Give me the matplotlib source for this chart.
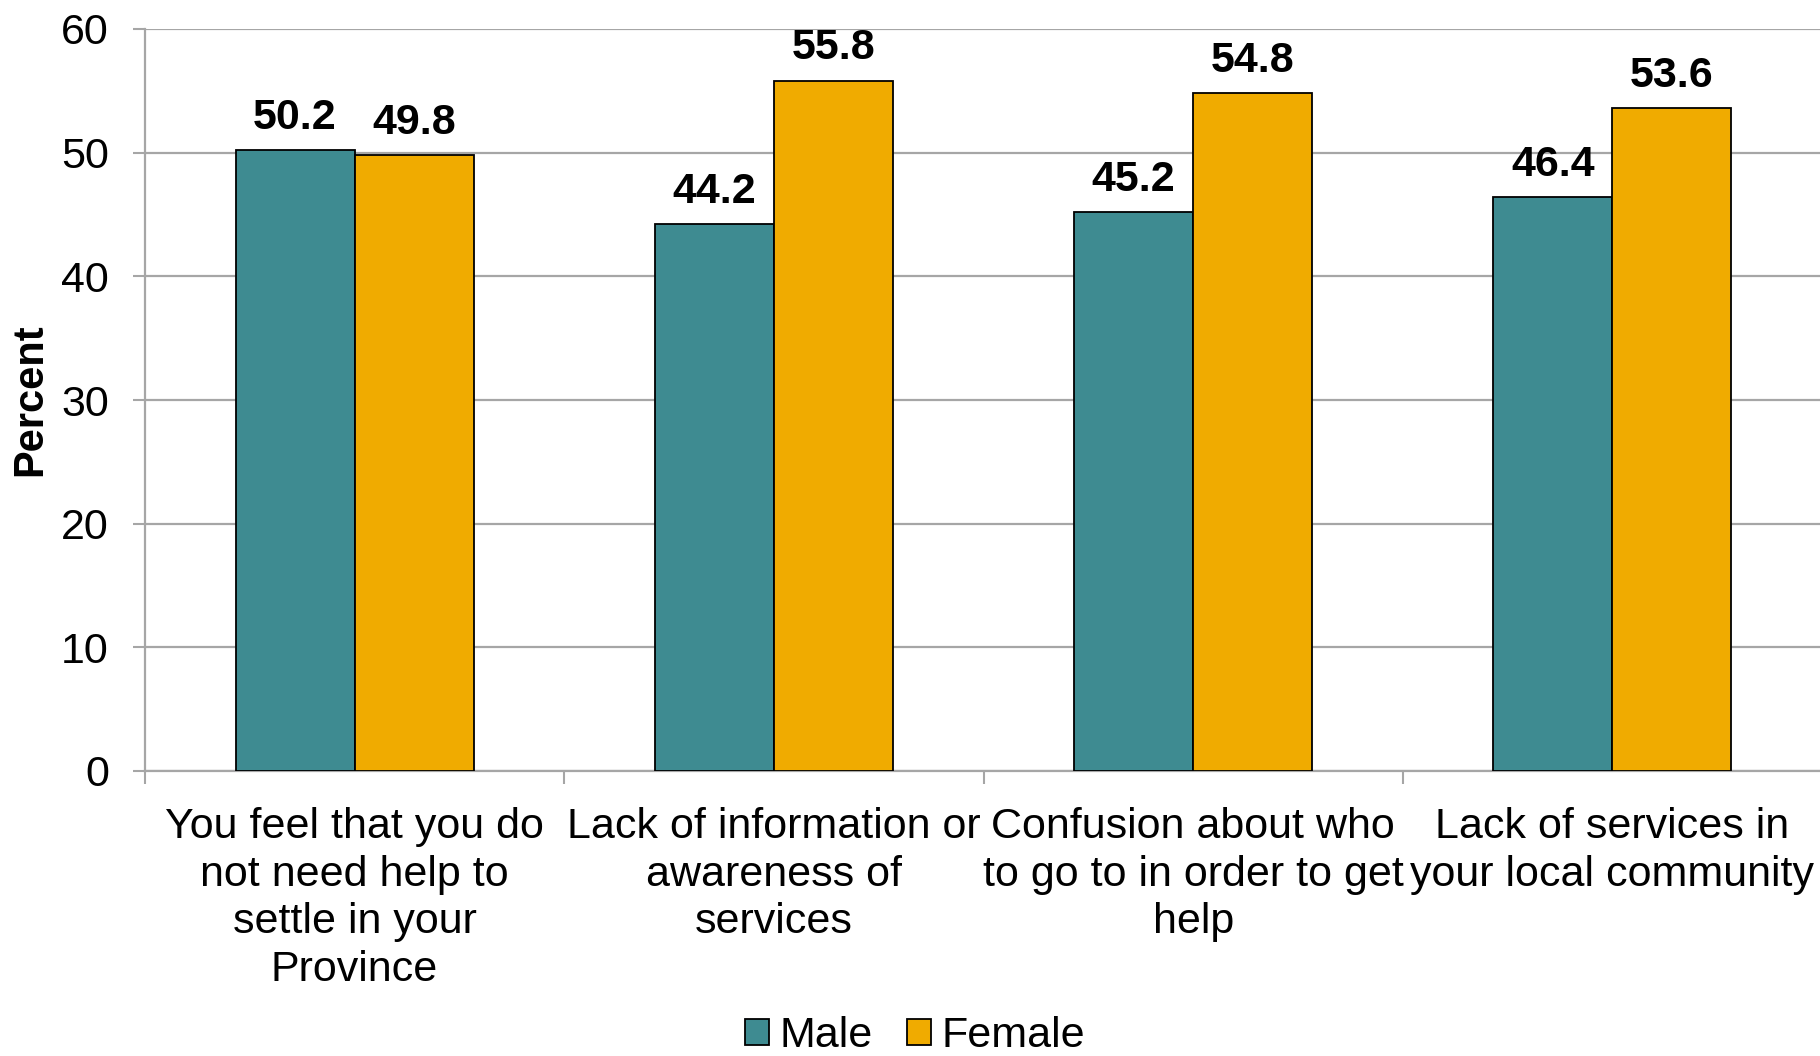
import matplotlib
matplotlib.use("Agg")
import matplotlib.pyplot as plt
import numpy as np

plt.rcParams['font.family'] = ['Liberation Sans', 'DejaVu Sans']

categories = [
    "You feel that you do\nnot need help to\nsettle in your\nProvince",
    "Lack of information or\nawareness of\nservices",
    "Confusion about who\nto go to in order to get\nhelp",
    "Lack of services in\nyour local community",
]
male = [50.2, 44.2, 45.2, 46.4]
female = [49.8, 55.8, 54.8, 53.6]
series_names = ["Male", "Female"]
yticks = [0, 10, 20, 30, 40, 50, 60]

male_color = "#3E8B91"
female_color = "#F0AB00"
grid_color = "#A6A6A6"

W, H = 1820, 1056
fig = plt.figure(figsize=(W / 100, H / 100), dpi=100)
ax_left, ax_right = 145, 1822
ax = fig.add_axes([ax_left / W, 1 - 771 / H, (ax_right - ax_left) / W, (771 - 29) / H])

x = np.arange(len(categories))
bw = 0.284
b1 = ax.bar(x - bw / 2, male, bw, color=male_color, edgecolor="black", linewidth=1.3,
            label=series_names[0], zorder=3)
b2 = ax.bar(x + bw / 2, female, bw, color=female_color, edgecolor="black", linewidth=1.3,
            label=series_names[1], zorder=3)

for bars, vals in ((b1, male), (b2, female)):
    for rect, v in zip(bars, vals):
        ax.annotate(f"{v:.1f}", (rect.get_x() + rect.get_width() / 2, v),
                    xytext=(0, 9), textcoords="offset points",
                    ha="center", va="bottom", fontsize=31, fontweight="bold")

ax.set_xlim(-0.5, len(categories) - 0.5)
ax.set_ylim(0, 60)
ax.set_yticks(yticks)
ax.set_yticklabels([str(t) for t in yticks], fontsize=31)
ax.yaxis.grid(True, color=grid_color, linewidth=1.6, zorder=0)
ax.set_axisbelow(True)

ax.set_xticks(np.arange(-0.5, len(categories) - 0.5, 1.0))
ax.set_xticklabels([])
ax.tick_params(axis="x", length=9, width=1.5, color=grid_color, direction="out")
ax.tick_params(axis="y", length=9, width=1.5, color=grid_color, direction="out", pad=17)

for i, lab in enumerate(categories):
    ax.text(i, -2.9, lab, ha="center", va="top", fontsize=31, linespacing=1.25,
            transform=ax.transData)

for side in ("top", "right"):
    ax.spines[side].set_visible(False)
for side in ("left", "bottom"):
    ax.spines[side].set_color(grid_color)
    ax.spines[side].set_linewidth(1.6)

ax.set_ylabel("Percent", fontsize=30, fontweight="bold")
ax.yaxis.set_label_coords((30 - ax_left) / (ax_right - ax_left), 0.5)
ax.yaxis.label.set_verticalalignment("center")

fig.legend(handles=[b1, b2], labels=series_names, loc="center",
           bbox_to_anchor=(915 / W, 1 - 1036 / H), ncol=2, frameon=False,
           fontsize=31, handlelength=0.55, handleheight=0.55, handletextpad=0.25,
           columnspacing=0.8, borderaxespad=0)

fig.savefig("out.png", dpi=100)
